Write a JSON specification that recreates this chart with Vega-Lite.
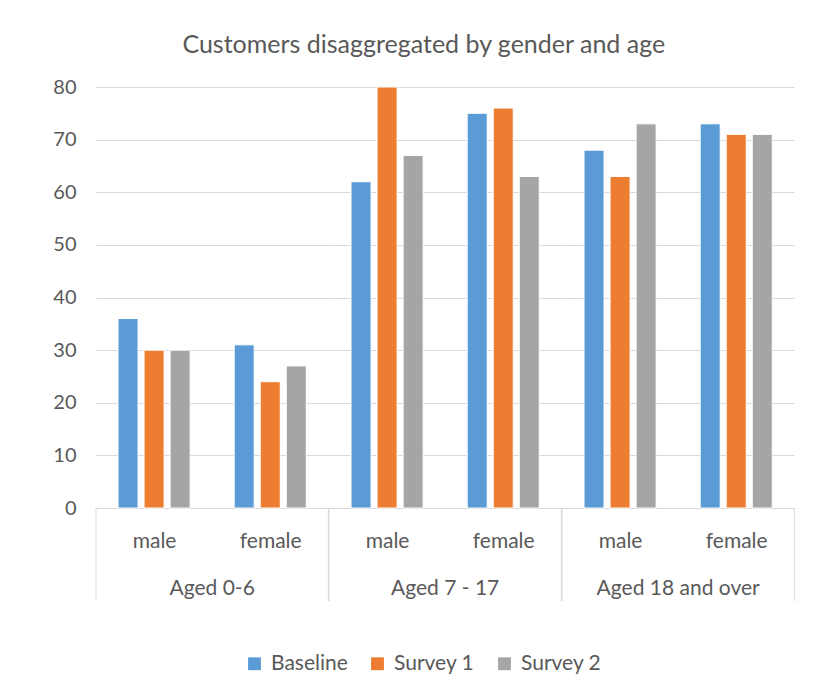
{
  "$schema": "https://vega.github.io/schema/vega-lite/v6.json",
  "background": "white",
  "padding": {"left": 52, "top": 33, "right": 30, "bottom": 5},
  "title": {
    "text": "Customers disaggregated by gender and age",
    "font": "Lato",
    "fontSize": 25,
    "fontWeight": "normal",
    "color": "#595959",
    "anchor": "middle",
    "frame": "bounds",
    "offset": 19
  },
  "data": {
    "values": [
      {"age": "Aged 0-6", "gender": "male", "series": "Baseline", "value": 36},
      {"age": "Aged 0-6", "gender": "male", "series": "Survey 1", "value": 30},
      {"age": "Aged 0-6", "gender": "male", "series": "Survey 2", "value": 30},
      {"age": "Aged 0-6", "gender": "female", "series": "Baseline", "value": 31},
      {"age": "Aged 0-6", "gender": "female", "series": "Survey 1", "value": 24},
      {"age": "Aged 0-6", "gender": "female", "series": "Survey 2", "value": 27},
      {"age": "Aged 7 - 17", "gender": "male", "series": "Baseline", "value": 62},
      {"age": "Aged 7 - 17", "gender": "male", "series": "Survey 1", "value": 80},
      {"age": "Aged 7 - 17", "gender": "male", "series": "Survey 2", "value": 67},
      {"age": "Aged 7 - 17", "gender": "female", "series": "Baseline", "value": 75},
      {"age": "Aged 7 - 17", "gender": "female", "series": "Survey 1", "value": 76},
      {"age": "Aged 7 - 17", "gender": "female", "series": "Survey 2", "value": 63},
      {"age": "Aged 18 and over", "gender": "male", "series": "Baseline", "value": 68},
      {"age": "Aged 18 and over", "gender": "male", "series": "Survey 1", "value": 63},
      {"age": "Aged 18 and over", "gender": "male", "series": "Survey 2", "value": 73},
      {"age": "Aged 18 and over", "gender": "female", "series": "Baseline", "value": 73},
      {"age": "Aged 18 and over", "gender": "female", "series": "Survey 1", "value": 71},
      {"age": "Aged 18 and over", "gender": "female", "series": "Survey 2", "value": 71}
    ]
  },
  "facet": {
    "column": {
      "field": "age",
      "type": "nominal",
      "sort": ["Aged 0-6", "Aged 7 - 17", "Aged 18 and over"],
      "header": {
        "title": null,
        "labelOrient": "bottom",
        "labelFont": "Lato",
        "labelFontSize": 21,
        "labelColor": "#595959",
        "labelPadding": -13,
        "labelBaseline": "middle"
      }
    }
  },
  "spacing": 0,
  "bounds": "flush",
  "spec": {
    "width": 232.3,
    "height": 421,
    "layer": [
      {
        "mark": {"type": "bar", "stroke": "white", "strokeWidth": 1},
        "encoding": {
          "x": {
            "field": "gender",
            "type": "nominal",
            "sort": ["male", "female"],
            "scale": {"paddingInner": 0, "paddingOuter": 0},
            "axis": {
              "title": null,
              "labelAngle": 0,
              "domainColor": "#D9D9D9",
              "domainWidth": 1,
              "tickBand": "extent",
              "tickSize": 93,
              "tickColor": "transparent",
              "labelPadding": -60,
              "labelBaseline": "middle",
              "labelFont": "Lato",
              "labelFontSize": 21,
              "labelColor": "#595959"
            }
          },
          "xOffset": {
            "field": "series",
            "type": "nominal",
            "sort": ["Baseline", "Survey 1", "Survey 2"],
            "scale": {"paddingInner": 0.2308, "paddingOuter": 0.846}
          },
          "y": {
            "field": "value",
            "type": "quantitative",
            "scale": {"domain": [0, 80], "nice": false},
            "axis": {
              "title": null,
              "values": [0, 10, 20, 30, 40, 50, 60, 70, 80],
              "domain": false,
              "ticks": false,
              "gridColor": "#D9D9D9",
              "gridWidth": 1,
              "labelPadding": 20,
              "labelFont": "Lato",
              "labelFontSize": 20,
              "labelColor": "#595959"
            }
          },
          "color": {
            "field": "series",
            "type": "nominal",
            "sort": ["Baseline", "Survey 1", "Survey 2"],
            "scale": {"domain": ["Baseline", "Survey 1", "Survey 2"], "range": ["#5B9BD5", "#ED7D31", "#A5A5A5"]},
            "legend": {
              "title": null,
              "orient": "none",
              "legendX": 148,
              "legendY": 566,
              "direction": "horizontal",
              "symbolType": "square",
              "symbolSize": 165,
              "symbolStrokeWidth": 0,
              "labelFont": "Lato",
              "labelFontSize": 21,
              "labelColor": "#595959",
              "labelOffset": 6,
              "columnPadding": 19
            }
          }
        }
      },
      {
        "transform": [{"filter": "datum.gender == 'male' && datum.series == 'Baseline'"}],
        "mark": {"type": "rule", "color": "#D9D9D9", "strokeWidth": 1},
        "encoding": {
          "x": {"field": "gender", "type": "nominal", "sort": ["male", "female"], "bandPosition": 0},
          "y": {"datum": 0, "type": "quantitative"},
          "y2": {"datum": -17.7}
        }
      },
      {
        "transform": [{"filter": "datum.gender == 'female' && datum.series == 'Baseline'"}],
        "mark": {"type": "rule", "color": "#D9D9D9", "strokeWidth": 1},
        "encoding": {
          "x": {"field": "gender", "type": "nominal", "sort": ["male", "female"], "bandPosition": 1},
          "y": {"datum": 0, "type": "quantitative"},
          "y2": {"datum": -17.7}
        }
      }
    ]
  },
  "config": {
    "view": {"stroke": null}
  }
}
